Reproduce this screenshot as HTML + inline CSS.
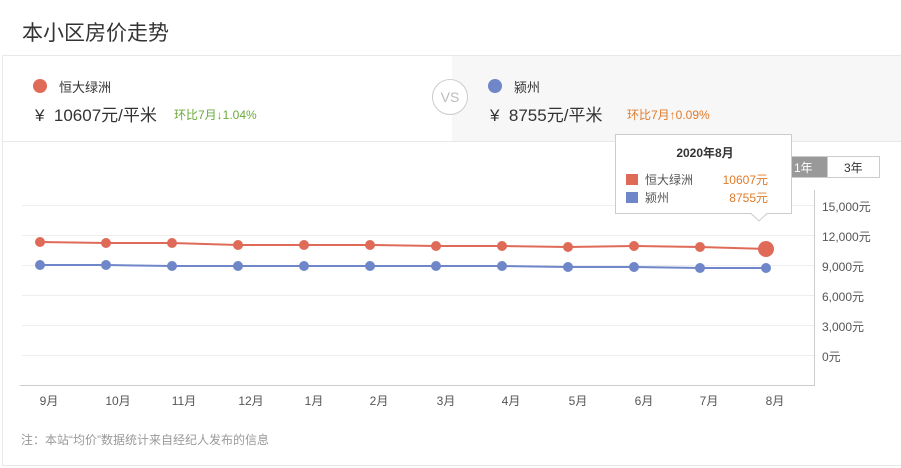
<!DOCTYPE html><html><head><meta charset="utf-8"><style>
body{margin:0;width:901px;height:468px;background:#fff;font-family:"Liberation Sans","Noto Sans CJK SC",sans-serif;position:relative;overflow:hidden;color:#333}
.a{position:absolute;white-space:nowrap}
</style></head><body>
<div class="a" style="left:22px;top:17px;font-size:21px;color:#333">本小区房价走势</div>
<div class="a" style="left:2px;top:55px;width:905px;height:411px;border:1px solid #e8e8e8;box-sizing:border-box"></div>
<div class="a" style="left:452px;top:56px;width:449px;height:85px;background:#f7f7f7"></div>
<div class="a" style="left:2px;top:141px;width:899px;height:1px;background:#e8e8e8"></div>
<div class="a" style="left:33px;top:79px;width:14px;height:14px;border-radius:50%;background:#e06a58"></div>
<div class="a" style="left:59px;top:77px;font-size:13px">恒大绿洲</div>
<div class="a" style="left:35px;top:101px;font-size:17px">¥&nbsp; 10607元/平米</div>
<div class="a" style="left:174px;top:106px;font-size:12px;color:#6aab3a">环比7月↓1.04%</div>
<div class="a" style="left:432px;top:79px;width:36px;height:36px;border-radius:50%;border:1px solid #ccc;background:#fff;box-sizing:border-box;text-align:center;line-height:34px;font-size:14px;color:#bbb">VS</div>
<div class="a" style="left:488px;top:79px;width:14px;height:14px;border-radius:50%;background:#6f86c8"></div>
<div class="a" style="left:514px;top:77px;font-size:13px">颍州</div>
<div class="a" style="left:490px;top:101px;font-size:17px">¥&nbsp; 8755元/平米</div>
<div class="a" style="left:627px;top:106px;font-size:12px;color:#e07b2a">环比7月↑0.09%</div>
<svg class="a" style="left:0;top:0" width="901" height="468">
<g stroke="#eee" stroke-width="1">
<line x1="22" y1="205.5" x2="814" y2="205.5"/><line x1="22" y1="235.5" x2="814" y2="235.5"/><line x1="22" y1="265.5" x2="814" y2="265.5"/><line x1="22" y1="295.5" x2="814" y2="295.5"/><line x1="22" y1="325.5" x2="814" y2="325.5"/><line x1="22" y1="355.5" x2="814" y2="355.5"/></g>
<line x1="20" y1="385.5" x2="814" y2="385.5" stroke="#ccc"/>
<line x1="814.5" y1="190" x2="814.5" y2="386" stroke="#ccc"/>
<polyline fill="none" stroke="#e06a58" stroke-width="2" points="40,242 106,243 172,243 238,245 304,245 370,245 436,246 502,246 568,247 634,246 700,247 766,249"/>
<polyline fill="none" stroke="#6f86c8" stroke-width="2" points="40,265 106,265 172,266 238,266 304,266 370,266 436,266 502,266 568,267 634,267 700,268 766,268"/>
<g fill="#e06a58"><circle cx="40" cy="242" r="5"/><circle cx="106" cy="243" r="5"/><circle cx="172" cy="243" r="5"/><circle cx="238" cy="245" r="5"/><circle cx="304" cy="245" r="5"/><circle cx="370" cy="245" r="5"/><circle cx="436" cy="246" r="5"/><circle cx="502" cy="246" r="5"/><circle cx="568" cy="247" r="5"/><circle cx="634" cy="246" r="5"/><circle cx="700" cy="247" r="5"/><circle cx="766" cy="249" r="8"/></g>
<g fill="#6f86c8"><circle cx="40" cy="265" r="5"/><circle cx="106" cy="265" r="5"/><circle cx="172" cy="266" r="5"/><circle cx="238" cy="266" r="5"/><circle cx="304" cy="266" r="5"/><circle cx="370" cy="266" r="5"/><circle cx="436" cy="266" r="5"/><circle cx="502" cy="266" r="5"/><circle cx="568" cy="267" r="5"/><circle cx="634" cy="267" r="5"/><circle cx="700" cy="268" r="5"/><circle cx="766" cy="268" r="5"/></g>
<g font-size="12" fill="#555" text-anchor="middle" font-family="Liberation Sans,Noto Sans CJK SC,sans-serif">
<text x="49" y="405">9月</text><text x="118" y="405">10月</text><text x="184" y="405">11月</text><text x="251" y="405">12月</text><text x="314" y="405">1月</text><text x="379" y="405">2月</text><text x="446" y="405">3月</text><text x="511" y="405">4月</text><text x="578" y="405">5月</text><text x="644" y="405">6月</text><text x="709" y="405">7月</text><text x="775" y="405">8月</text></g>
<g font-size="12" fill="#555" font-family="Liberation Sans,Noto Sans CJK SC,sans-serif">
<text x="822" y="211">15,000元</text><text x="822" y="241">12,000元</text><text x="822" y="271">9,000元</text><text x="822" y="301">6,000元</text><text x="822" y="331">3,000元</text><text x="822" y="361">0元</text></g>
<rect x="790.5" y="156.5" width="37" height="21" fill="#999"/>
<rect x="827.5" y="156.5" width="52" height="21" fill="#fff" stroke="#ccc"/>
<text x="794" y="172" font-size="12" fill="#fff">1年</text>
<text x="844" y="172" font-size="12" fill="#333">3年</text>
<path d="M615.5,134.5 H791.5 V213.5 H767 L759,221 L751,213.5 H615.5 Z" fill="#fff" stroke="#ccc"/>
<text x="705" y="157" font-size="12" font-weight="bold" fill="#333" text-anchor="middle">2020年8月</text>
<rect x="626" y="174" width="12" height="11" fill="#e06a58"/>
<rect x="626" y="192" width="12" height="11" fill="#6f86c8"/>
<text x="645" y="184" font-size="12" fill="#555">恒大绿洲</text>
<text x="645" y="202" font-size="12" fill="#555">颍州</text>
<text x="768" y="184" font-size="12" fill="#e07b2a" text-anchor="end">10607元</text>
<text x="768" y="202" font-size="12" fill="#e07b2a" text-anchor="end">8755元</text>
</svg>
<div class="a" style="left:21px;top:431px;font-size:12px;color:#999">注：本站“均价”数据统计来自经纪人发布的信息</div>
</body></html>
